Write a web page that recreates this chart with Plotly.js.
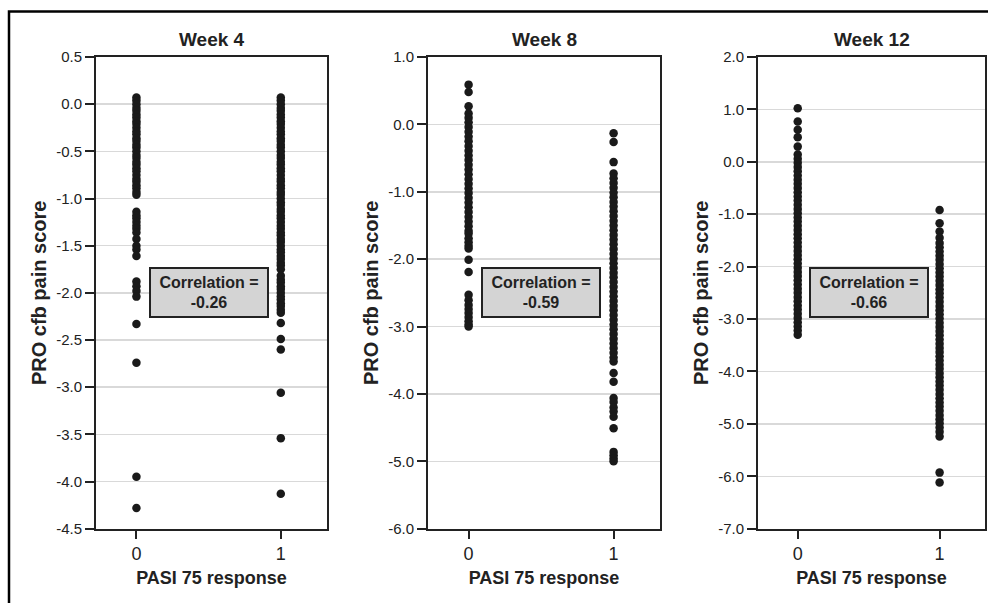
<!DOCTYPE html>
<html>
<head>
<meta charset="utf-8">
<script src="https://cdn.plot.ly/plotly-3.0.1.min.js"></script>
<style>html,body{margin:0;padding:0;background:#fff;}</style>
</head>
<body>
<div id="chart" style="width:988px;height:603px;"></div>
<script>
// ---- Data ----
const panelTitles = ["Week 4", "Week 8", "Week 12"];
const correlations = ["-0.26", "-0.59", "-0.66"];
const xCategories = [0, 1];
const xTickLabels = ["0", "1"];

// Week 4: PASI 75 non-responders (x=0) and responders (x=1)
const week4_resp0 = [0.07, 0.04, 0.00, -0.04, -0.07, -0.11, -0.14, -0.18, -0.21, -0.25, -0.29, -0.32, -0.36, -0.39, -0.43, -0.46, -0.50, -0.54, -0.57, -0.61, -0.64, -0.68, -0.71, -0.75, -0.79, -0.82, -0.86, -0.89, -0.93, -0.96,
  -1.14, -1.18, -1.21, -1.25, -1.29, -1.32, -1.36, -1.43, -1.50, -1.54, -1.61, -1.88, -1.93, -1.98, -2.04, -2.33, -2.74, -3.95, -4.28];
const week4_resp1 = [0.07, 0.04, 0.00, -0.04, -0.07, -0.11, -0.14, -0.18, -0.21, -0.25, -0.29, -0.32, -0.36, -0.39, -0.43, -0.46, -0.50, -0.54, -0.57, -0.61, -0.64, -0.68, -0.71, -0.75, -0.79, -0.82, -0.86, -0.89, -0.93, -0.96, -1.00, -1.04, -1.07, -1.11, -1.14, -1.18, -1.21, -1.25, -1.29, -1.32, -1.36, -1.39, -1.43, -1.46, -1.50, -1.54, -1.57, -1.61, -1.64, -1.68, -1.71, -1.75,
  -1.82, -1.86, -1.89, -1.93, -1.96, -2.00, -2.04, -2.07, -2.11, -2.14, -2.18, -2.21, -2.32, -2.49, -2.60, -3.06, -3.54, -4.13];

// Week 8
const week8_resp0 = [0.59, 0.48, 0.27, 0.16, 0.10, 0.03, -0.04, -0.11, -0.18, -0.25, -0.32, -0.39, -0.46, -0.53, -0.60, -0.67, -0.74, -0.81, -0.88, -0.95, -1.02, -1.09, -1.16, -1.23, -1.30, -1.37, -1.44, -1.51, -1.58, -1.62,
  -1.69, -1.75, -1.80, -1.84, -2.01, -2.19, -2.53, -2.61, -2.68, -2.74, -2.80, -2.86, -2.92, -2.97, -3.00];
const week8_resp1 = [-0.13, -0.26, -0.56, -0.73, -0.80, -0.87, -0.94, -1.01, -1.08, -1.15, -1.22, -1.29, -1.36, -1.43, -1.50, -1.57, -1.64, -1.71, -1.78, -1.85, -1.92, -1.99, -2.06, -2.13, -2.20, -2.27, -2.34, -2.41, -2.48, -2.55, -2.62, -2.69, -2.76, -2.83, -2.90, -2.97, -3.04, -3.11, -3.18, -3.25, -3.32, -3.39, -3.46, -3.52,
  -3.69, -3.82, -4.06, -4.12, -4.20, -4.26, -4.34, -4.51, -4.86, -4.91, -4.96, -5.00];

// Week 12
const week12_resp0 = [1.02, 0.77, 0.61, 0.47, 0.29, 0.14, 0.06, -0.02, -0.10, -0.18, -0.26, -0.34, -0.42, -0.50, -0.58, -0.66, -0.74, -0.82, -0.90, -0.98, -1.06, -1.14, -1.22, -1.30, -1.38, -1.46, -1.54, -1.62, -1.70, -1.78, -1.86, -1.94, -2.02, -2.10, -2.18, -2.26, -2.34, -2.42, -2.50, -2.58, -2.66, -2.74, -2.82, -2.90, -2.98, -3.06, -3.14, -3.22, -3.30];
const week12_resp1 = [-0.92, -1.17, -1.33, -1.45, -1.55, -1.63, -1.71, -1.79, -1.87, -1.95, -2.03, -2.11, -2.19, -2.27, -2.35, -2.43, -2.51, -2.59, -2.67, -2.75, -2.83, -2.91, -2.99, -3.07, -3.15, -3.23, -3.31, -3.39, -3.47, -3.55, -3.63, -3.71, -3.79, -3.87, -3.95, -4.03, -4.11, -4.19, -4.27, -4.35, -4.43, -4.51, -4.59, -4.67, -4.75, -4.83, -4.91, -4.99, -5.07, -5.15, -5.24,
  -5.93, -6.12];

// Y axis ticks per panel
const week4_yTicks = [0.5, 0.0, -0.5, -1.0, -1.5, -2.0, -2.5, -3.0, -3.5, -4.0, -4.5];
const week4_yLabels = ["0.5", "0.0", "-0.5", "-1.0", "-1.5", "-2.0", "-2.5", "-3.0", "-3.5", "-4.0", "-4.5"];
const week8_yTicks = [1, 0, -1, -2, -3, -4, -5, -6];
const week8_yLabels = ["1.0", "0.0", "-1.0", "-2.0", "-3.0", "-4.0", "-5.0", "-6.0"];
const week12_yTicks = [2, 1, 0, -1, -2, -3, -4, -5, -6, -7];
const week12_yLabels = ["2.0", "1.0", "0.0", "-1.0", "-2.0", "-3.0", "-4.0", "-5.0", "-6.0", "-7.0"];

const yAxisTitle = "PRO cfb pain score";
const xAxisTitle = "PASI 75 response";

// ---- Build ----
const panels = [
  {r0: week4_resp0, r1: week4_resp1, ticks: week4_yTicks, labels: week4_yLabels},
  {r0: week8_resp0, r1: week8_resp1, ticks: week8_yTicks, labels: week8_yLabels},
  {r0: week12_resp0, r1: week12_resp1, ticks: week12_yTicks, labels: week12_yLabels}
];
const W = 988, H = 603;
const xDomains = [[96/W, 327/W], [428/W, 660/W], [758/W, 985/W]];
const yDomain = [1 - 528.7/H, 1 - 57/H];
const FONT = "Liberation Sans, Arial, sans-serif";
const INK = "#222222";

const traces = [];
const layout = {
  width: W, height: H, autosize: false,
  margin: {l: 0, r: 0, t: 0, b: 0, pad: 0},
  paper_bgcolor: "#ffffff", plot_bgcolor: "#ffffff",
  showlegend: false,
  font: {family: FONT, color: INK},
  annotations: [], shapes: []
};

panels.forEach((p, i) => {
  const sfx = i === 0 ? "" : String(i + 1);
  const xa = "x" + sfx, ya = "y" + sfx;
  const ys = p.r0.concat(p.r1);
  const xs = p.r0.map(() => xCategories[0]).concat(p.r1.map(() => xCategories[1]));
  traces.push({
    type: "scatter", mode: "markers", x: xs, y: ys, xaxis: xa, yaxis: ya,
    marker: {size: 8.5, color: "#1a1a1a", line: {width: 0}},
    hoverinfo: "skip", cliponaxis: false
  });
  const yRange = [p.ticks[p.ticks.length - 1], p.ticks[0]];
  layout["xaxis" + sfx] = {
    domain: xDomains[i], anchor: ya, range: [-0.28, 1.32],
    tickvals: xCategories, ticktext: xTickLabels,
    ticks: "outside", ticklen: 8, tickwidth: 2, tickcolor: INK,
    showline: true, linewidth: 2, linecolor: INK, mirror: true,
    showgrid: false, zeroline: false,
    tickfont: {size: 18, family: FONT, color: INK},
    title: {text: "<b>" + xAxisTitle + "</b>", font: {size: 18, family: FONT, color: INK}, standoff: 8},
    fixedrange: true
  };
  layout["yaxis" + sfx] = {
    domain: yDomain, anchor: xa, range: yRange,
    tickvals: p.ticks, ticktext: p.labels,
    ticks: "outside", ticklen: 9, tickwidth: 2, tickcolor: INK,
    showline: true, linewidth: 2, linecolor: INK, mirror: true,
    showgrid: true, gridcolor: "#d9d9d9", gridwidth: 1.5, zeroline: false,
    tickfont: {size: 15, family: FONT, color: INK},
    title: {text: "<b>" + yAxisTitle + "</b>", font: {size: 20, family: FONT, color: INK}, standoff: 4},
    fixedrange: true
  };
  layout.annotations.push({
    xref: xa + " domain", yref: ya + " domain", x: 0.5, y: 1, yanchor: "bottom",
    yshift: 5, showarrow: false,
    text: "<b>" + panelTitles[i] + "</b>", font: {size: 19, family: FONT, color: INK}
  });
  layout.annotations.push({
    xref: xa, yref: ya + " domain", x: 0.5, y: 0.5, xanchor: "center", yanchor: "middle",
    showarrow: false, align: "center",
    text: "<b>Correlation =<br>" + correlations[i] + "</b>",
    font: {size: 16, family: FONT, color: INK},
    bgcolor: "#d4d4d4", bordercolor: INK, borderwidth: 2, borderpad: 1,
    width: 114, height: 45
  });
});

// Outer frame (cropped at right and bottom in the reference)
layout.shapes.push({
  type: "rect", xref: "paper", yref: "paper",
  x0: 9/W, x1: 1.05, y0: -0.05, y1: 1 - 11.5/H,
  line: {color: "#000000", width: 2.5}, fillcolor: "rgba(0,0,0,0)", layer: "below"
});

Plotly.newPlot("chart", traces, layout, {displayModeBar: false, staticPlot: true});
</script>
</body>
</html>
